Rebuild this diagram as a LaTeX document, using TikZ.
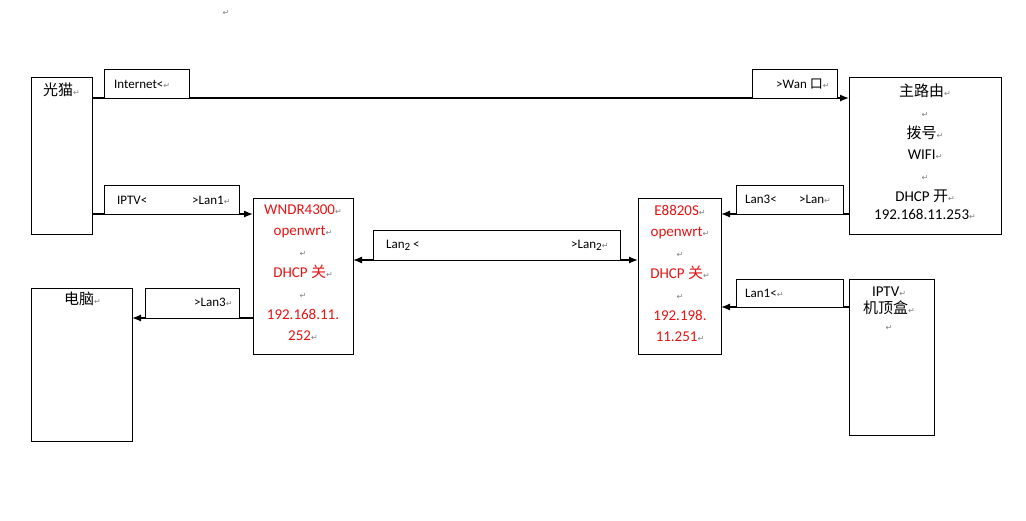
\documentclass[tikz,border=0pt]{standalone}
\usepackage{fontspec}
\setmainfont{Carlito}
\newfontfamily\cjk{Noto Sans CJK SC}
\newfontfamily\dvs{DejaVu Sans}
\usetikzlibrary{arrows.meta}
\newcommand{\rt}{{\color{gray}\dvs\fontsize{8}{8}\selectfont ↵}}
\newcommand{\subtwo}{\raisebox{-2pt}{\fontsize{11}{11}\selectfont 2}}
\begin{document}
\begin{tikzpicture}[x=1pt,y=-1pt,
  box/.style={draw,line width=0.8pt},
  lab/.style={draw,line width=0.8pt,fill=white},
  con/.style={line width=1.3pt,-{Latex[length=9pt,width=7pt]}},
  txt/.style={font=\fontsize{15}{21}\selectfont,align=center,inner sep=0pt,anchor=north},
  stxt/.style={font=\fontsize{13}{15}\selectfont,inner sep=0pt,anchor=west},
  red/.style={text={rgb,255:red,230;green,20;blue,20}}]
\useasboundingbox[fill=white] (0,0) rectangle (1026,520);
\node[inner sep=0pt] (topmark) at (226,13) {\rt};
% boxes
\draw[box] (31,77) rectangle (92,234);
\draw[box] (849,77) rectangle (1001,234);
\draw[box] (31,288) rectangle (132,441);
\draw[box] (849,279) rectangle (934,435);
\draw[box] (253,198) rectangle (353,354);
\draw[box] (638,198) rectangle (721,354);
% box texts
\node[txt,anchor=north west] (t1) at (43,83) {{\cjk 光猫}\rt};
\node[txt] (t2) at (925,84) {{\cjk 主路由}\rt\\\rt\\{\cjk 拨号}\rt\\WIFI\rt\\\rt\\DHCP {\cjk 开}\rt\\[-3pt]192.168.11.253\rt};
\node[txt,anchor=north west] (t3) at (64,292) {{\cjk 电脑}\rt};
\node[txt] (t4) at (889,287) {IPTV\rt\\[-4pt]{\cjk 机顶盒}\rt\\[-4pt]\rt};
\node[txt,red] (t5) at (303,205) {WNDR4300\rt\\openwrt\rt\\\rt\\DHCP {\cjk 关}\rt\\\rt\\192.168.11.\\252\rt};
\node[txt,red] (t6) at (680,205) {E8820S\rt\\openwrt\rt\\\rt\\DHCP {\cjk 关}\rt\\\rt\\192.198.\\11.251\rt};
% connectors
\coordinate (a1) at (92,98); \coordinate (b1) at (849,98);
\draw[con] (a1) -- (b1);
\coordinate (a2) at (92,214); \coordinate (b2) at (253,214);
\draw[con] (a2) -- (b2);
\coordinate (a3) at (253,318); \coordinate (b3) at (132,318);
\draw[con] (a3) -- (b3);
\coordinate (a4) at (849,214); \coordinate (b4) at (721,214);
\draw[con] (a4) -- (b4);
\coordinate (a5) at (849,307); \coordinate (b5) at (721,307);
\draw[con] (a5) -- (b5);
\coordinate (a6) at (353,260); \coordinate (b6) at (638,260);
\draw[con,{Latex[length=9pt,width=7pt]}-{Latex[length=9pt,width=7pt]}] (a6) -- (b6);
% label boxes
\draw[lab] (104,69) rectangle (189,98);
\node[stxt] (l1) at (114,84) {Internet<\rt};
\draw[lab] (752,69) rectangle (837,98);
\node[stxt] (l2) at (776,84) {>Wan {\cjk 口}\rt};
\draw[lab] (104,185) rectangle (239,214);
\node[stxt] (l3) at (117,200) {IPTV<};
\node[stxt] (l3b) at (192,200) {>Lan1\rt};
\draw[lab] (145,288) rectangle (239,318);
\node[stxt] (l4) at (194,302) {>Lan3\rt};
\draw[lab] (736,185) rectangle (843,214);
\node[stxt] (l5) at (745,199) {Lan3<};
\node[stxt] (l5b) at (799,199) {>Lan\rt};
\draw[lab] (736,279) rectangle (843,307);
\node[stxt] (l6) at (745,293) {Lan1<\rt};
\draw[lab] (373,230) rectangle (620,260);
\node[stxt] (l7) at (386,245) {Lan\subtwo{} <};
\node[stxt] (l7b) at (571,245) {>Lan\subtwo\rt};
\end{tikzpicture}
\end{document}
